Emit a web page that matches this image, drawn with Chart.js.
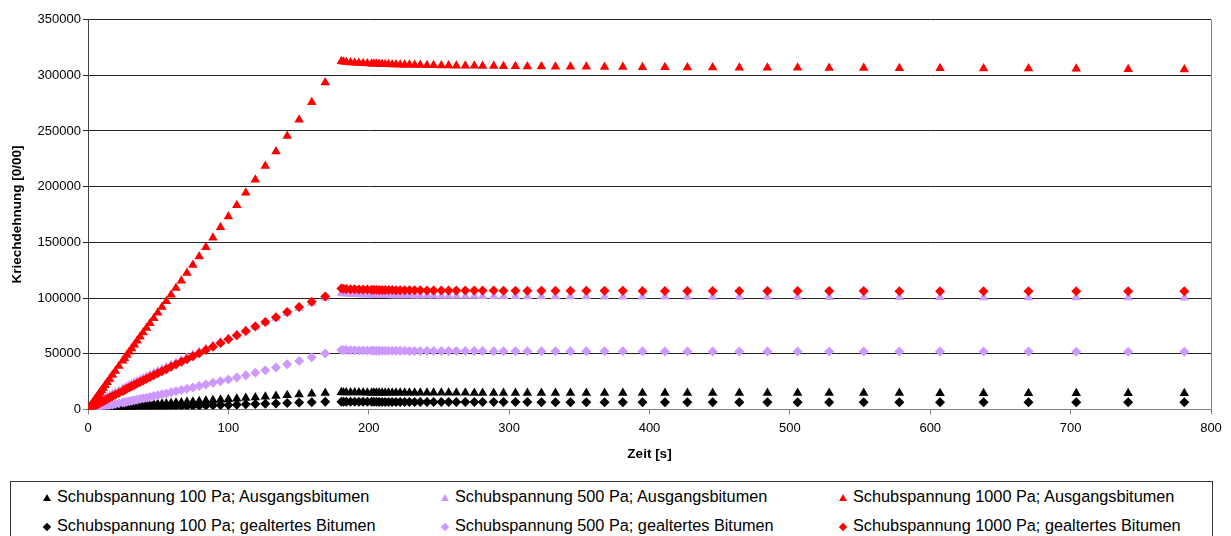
<!DOCTYPE html>
<html lang="de">
<head>
<meta charset="utf-8">
<title>Kriechdehnung</title>
<script src="https://cdn.jsdelivr.net/npm/chart.js@4.4.0/dist/chart.umd.min.js"></script>
<style>
  html, body { margin: 0; padding: 0; background: #fff; overflow: hidden; }
  #wrap { position: relative; width: 1231px; height: 536px; }
  #legende {
    position: absolute; left: 10px; top: 481px; width: 1201px; height: 80px;
    border: 1px solid #333; background: #fff;
    font: 16.3px 'Liberation Sans', Arial, sans-serif; color: #000;
  }
  .eintrag { position: absolute; white-space: nowrap; height: 20px; line-height: 20px; }
  .sym { display: inline-block; vertical-align: middle; margin-right: 6px; }
  .dreieck { width: 0; height: 0; border-left: 4px solid transparent; border-right: 4px solid transparent; border-bottom: 7px solid; }
  .raute { width: 6px; height: 6px; margin-left: 1px; margin-right: 7px; transform: rotate(45deg); }
</style>
</head>
<body>
<div id="wrap">
  <canvas id="kriechChart" width="1231" height="536"></canvas>
  <div id="legende"></div>
</div>
<script>
// Zeitpunkte [s]: Belastung bis ~170 s, danach Rückverformung
const zeit = [
  0, 0.5, 1, 2, 3, 4, 5, 6, 6.8, 7.6,
  8.6, 9.7, 10.9, 12.2, 13.7, 15.4, 17.4, 19.5, 22, 24.7,
  26.1, 27.7, 29.4, 31.1, 33, 35, 37.1, 39.3, 41.7, 44.2,
  46.9, 49.7, 52.7, 55.8, 59.2, 62.7, 66.5, 70.5, 74.7, 79.2,
  84, 89, 94.4, 100, 106, 112.4, 119.2, 126.3, 133.9, 141.9,
  150.4, 159.4, 169,
  180.5, 182, 184, 187, 190, 193, 196, 199, 202,
  203.7, 205.5, 207.4, 209.5, 211.7, 214.1, 216.7, 219.4, 222.4, 225.6,
  229, 232.7, 236.7, 241.5, 246.2, 251.7, 256.9, 262.4, 268.8, 275.2,
  281.1, 289, 296, 304.5, 313, 323, 333, 343.7, 355, 368,
  381, 395, 411, 427, 445, 464, 484, 505.5, 528, 552.6,
  578, 607, 638, 670, 704, 741, 781
];

const dehnung100A = [
  0, 50, 100, 200, 300, 400, 500, 600, 680, 760,
  860, 970, 1090, 1220, 1370, 1540, 1740, 1950, 2200, 2470,
  2600, 2760, 2930, 3100, 3290, 3480, 3690, 3900, 4100, 4350,
  4600, 4850, 5150, 5400, 5700, 6000, 6350, 6700, 7050, 7450,
  7850, 8300, 8750, 9200, 9700, 10250, 10800, 11400, 12050, 12700,
  13400, 14100, 14900,
  15400, 15350, 15300, 15250, 15200, 15180, 15160, 15140, 15120,
  15100, 15090, 15080, 15070, 15060, 15050, 15040, 15030, 15020, 15010,
  15000, 14990, 14980, 14970, 14960, 14950, 14940, 14930, 14920, 14910,
  14900, 14890, 14880, 14870, 14860, 14850, 14840, 14830, 14820, 14810,
  14800, 14790, 14780, 14770, 14760, 14750, 14740, 14730, 14720, 14710,
  14700, 14690, 14680, 14670, 14660, 14650, 14640
];

const dehnung500A = [
  0, 500, 1000, 1900, 2800, 3600, 4400, 5200, 5800, 6400,
  7200, 8000, 8900, 9900, 11000, 12200, 13600, 15000, 16700, 18500,
  19400, 20500, 21600, 22700, 23900, 25200, 26500, 27900, 29400, 31000,
  32700, 34400, 36200, 38000, 40000, 42000, 44300, 46700, 49200, 51800,
  54600, 57500, 60600, 63800, 67100, 70600, 74300, 78100, 82200, 86500,
  91000, 95500, 100300,
  104500, 104200, 103900, 103600, 103400, 103200, 103000, 102900, 102800,
  102700, 102650, 102600, 102550, 102500, 102450, 102400, 102350, 102300, 102250,
  102200, 102150, 102100, 102050, 102000, 101950, 101900, 101850, 101800, 101750,
  101700, 101650, 101600, 101550, 101500, 101450, 101400, 101350, 101300, 101250,
  101200, 101150, 101100, 101050, 101000, 100950, 100900, 100850, 100800, 100750,
  100700, 100650, 100600, 100550, 100500, 100450, 100400
];

const dehnung1000A = [
  0, 900, 1800, 3600, 5400, 7200, 9000, 10700, 12100, 13600,
  15300, 17300, 19400, 21700, 24400, 27400, 30900, 34600, 39000, 43700,
  46100, 48900, 51900, 54800, 58100, 61600, 65200, 69000, 73100, 77400,
  82000, 86800, 92000, 97200, 103000, 109000, 115500, 122400, 129600, 137300,
  145600, 154200, 163500, 173100, 183400, 194500, 206200, 218500, 231600, 245400,
  260100, 275700, 293500,
  312500, 312000, 311800, 311500, 311200, 311000, 310800, 310600, 310400,
  310300, 310200, 310100, 310000, 309900, 309800, 309700, 309600, 309500, 309400,
  309300, 309200, 309100, 309000, 308900, 308800, 308700, 308600, 308500, 308400,
  308300, 308200, 308100, 308000, 307900, 307800, 307700, 307600, 307500, 307400,
  307300, 307200, 307100, 307000, 306900, 306800, 306700, 306600, 306500, 306400,
  306300, 306200, 306100, 306000, 305900, 305300, 305100
];

const dehnung100G = [
  0, 20, 45, 90, 135, 180, 225, 270, 300, 340,
  380, 430, 480, 540, 600, 680, 760, 850, 960, 1080,
  1140, 1210, 1280, 1350, 1430, 1520, 1610, 1700, 1810, 1910,
  2030, 2150, 2280, 2410, 2550, 2700, 2860, 3030, 3140, 3330,
  3530, 3740, 3960, 4100, 4350, 4610, 4890, 5180, 5490, 5820,
  6170, 6540, 6900,
  7000, 6980, 6960, 6940, 6920, 6900, 6890, 6880, 6870,
  6860, 6850, 6840, 6830, 6820, 6810, 6800, 6790, 6780, 6770,
  6760, 6750, 6740, 6730, 6720, 6710, 6700, 6690, 6680, 6670,
  6660, 6650, 6640, 6630, 6620, 6610, 6600, 6590, 6580, 6570,
  6560, 6550, 6540, 6530, 6520, 6510, 6500, 6490, 6480, 6470,
  6460, 6450, 6440, 6430, 6420, 6410, 6400
];

const dehnung500G = [
  0, 130, 250, 500, 750, 1000, 1250, 1500, 1700, 1900,
  2150, 2400, 2700, 3050, 3400, 3850, 4350, 4900, 5500, 6200,
  6550, 6950, 7400, 7850, 8350, 8850, 9400, 10000, 10650, 11300,
  12050, 12800, 13600, 14450, 15400, 16400, 17500, 18600, 19800, 21000,
  22400, 23900, 25400, 27000, 28800, 30800, 32900, 35200, 37800, 40600,
  43600, 46800, 50200,
  53500, 53400, 53300, 53200, 53100, 53000, 52950, 52900, 52850,
  52800, 52780, 52760, 52740, 52720, 52700, 52680, 52660, 52640, 52620,
  52600, 52580, 52560, 52540, 52520, 52500, 52480, 52460, 52440, 52420,
  52400, 52380, 52360, 52340, 52320, 52300, 52280, 52260, 52240, 52220,
  52200, 52180, 52160, 52140, 52120, 52100, 52080, 52060, 52040, 52020,
  52000, 51980, 51960, 51940, 51920, 51900, 51880
];

const dehnung1000G = [
  0, 400, 800, 1500, 2200, 2900, 3600, 4300, 4800, 5300,
  6000, 6700, 7500, 8400, 9400, 10500, 11800, 13200, 14800, 16600,
  17500, 18600, 19700, 20800, 22000, 23300, 24600, 26000, 27500, 29100,
  30800, 32500, 34300, 36200, 38300, 40400, 42800, 45200, 47800, 50500,
  53400, 56400, 59700, 63000, 66600, 70400, 74400, 78500, 82900, 87400,
  91900, 96600, 101500,
  108600, 108400, 108200, 108000, 107900, 107800, 107700, 107600, 107500,
  107450, 107400, 107350, 107300, 107250, 107200, 107150, 107100, 107050, 107000,
  106980, 106950, 106920, 106900, 106870, 106850, 106820, 106800, 106770, 106750,
  106720, 106700, 106670, 106650, 106620, 106600, 106570, 106550, 106520, 106500,
  106470, 106450, 106420, 106400, 106370, 106350, 106320, 106300, 106270, 106250,
  106220, 106200, 106170, 106150, 106120, 106100, 106050
];

const serien = [
  { name: 'Schubspannung 100 Pa; Ausgangsbitumen', werte: dehnung100A, farbe: '#000000', form: 'triangle' },
  { name: 'Schubspannung 500 Pa; Ausgangsbitumen', werte: dehnung500A, farbe: '#CC99FF', form: 'triangle' },
  { name: 'Schubspannung 1000 Pa; Ausgangsbitumen', werte: dehnung1000A, farbe: '#FF0000', form: 'triangle' },
  { name: 'Schubspannung 100 Pa; gealtertes Bitumen', werte: dehnung100G, farbe: '#000000', form: 'rectRot' },
  { name: 'Schubspannung 500 Pa; gealtertes Bitumen', werte: dehnung500G, farbe: '#CC99FF', form: 'rectRot' },
  { name: 'Schubspannung 1000 Pa; gealtertes Bitumen', werte: dehnung1000G, farbe: '#FF0000', form: 'rectRot' }
];

const schrift = "'Liberation Sans', Arial, sans-serif";
Chart.defaults.font.family = schrift;
Chart.defaults.color = '#000';

// rechter Rand der Zeichenfläche
const rahmen = {
  id: 'rahmen',
  beforeDatasetsDraw(chart) {
    const { ctx, chartArea: a } = chart;
    const x = Math.round(a.right) + 0.5;
    ctx.save();
    ctx.strokeStyle = '#808080';
    ctx.lineWidth = 1;
    ctx.beginPath();
    ctx.moveTo(x, a.top);
    ctx.lineTo(x, a.bottom);
    ctx.stroke();
    ctx.restore();
  }
};

const kriechChart = new Chart(document.getElementById('kriechChart').getContext('2d'), {
  type: 'scatter',
  data: {
    datasets: serien.map((s, i) => ({
      label: s.name,
      data: zeit.map((t, j) => ({ x: t, y: s.werte[j] })),
      pointStyle: s.form,
      pointRadius: s.form === 'triangle' ? 5.5 : 5,
      pointHoverRadius: 5,
      backgroundColor: s.farbe,
      borderColor: s.farbe,
      borderWidth: 0,
      order: serien.length - i
    }))
  },
  options: {
    responsive: false,
    animation: false,
    layout: { padding: { left: 0, right: 20, top: 19.5, bottom: 74 } },
    plugins: {
      legend: { display: false },
      tooltip: { enabled: false }
    },
    scales: {
      x: {
        type: 'linear',
        min: 0,
        max: 800,
        ticks: { stepSize: 100, font: { size: 13 }, padding: 6, maxRotation: 0, callback: v => String(v) },
        grid: { drawOnChartArea: false, drawTicks: true, tickLength: 5, color: '#808080' },
        border: { color: '#808080' },
        title: { display: true, text: 'Zeit [s]', font: { size: 13.5, weight: 'bold' }, padding: { top: 0, bottom: 0 } },
        afterFit(scale) { scale.height = 52.5; }
      },
      y: {
        min: 0,
        max: 350000,
        ticks: { stepSize: 50000, font: { size: 13 }, padding: 2, callback: v => String(v) },
        grid: {
          color: c => (c.tick && c.tick.value === 0 ? '#808080' : '#222'),
          tickLength: 5
        },
        border: { color: '#444' },
        title: { display: true, text: 'Kriechdehnung [0/00]', font: { size: 13.5, weight: 'bold' }, padding: { top: 9, bottom: 0 } },
        afterFit(scale) { scale.width = 88; }
      }
    }
  },
  plugins: [rahmen]
});

// Legende im Kasten unter dem Diagramm, drei Spalten
const legende = document.getElementById('legende');
const spaltenX = [32, 430, 828];
const zeilenY = [3.5, 33];
serien.forEach((s, i) => {
  const e = document.createElement('div');
  e.className = 'eintrag';
  e.style.left = spaltenX[i % 3] + 'px';
  e.style.top = zeilenY[Math.floor(i / 3)] + 'px';
  const sym = document.createElement('span');
  if (s.form === 'triangle') {
    sym.className = 'sym dreieck';
    sym.style.borderBottomColor = s.farbe;
  } else {
    sym.className = 'sym raute';
    sym.style.background = s.farbe;
  }
  e.appendChild(sym);
  e.appendChild(document.createTextNode(s.name));
  legende.appendChild(e);
});
</script>
</body>
</html>
